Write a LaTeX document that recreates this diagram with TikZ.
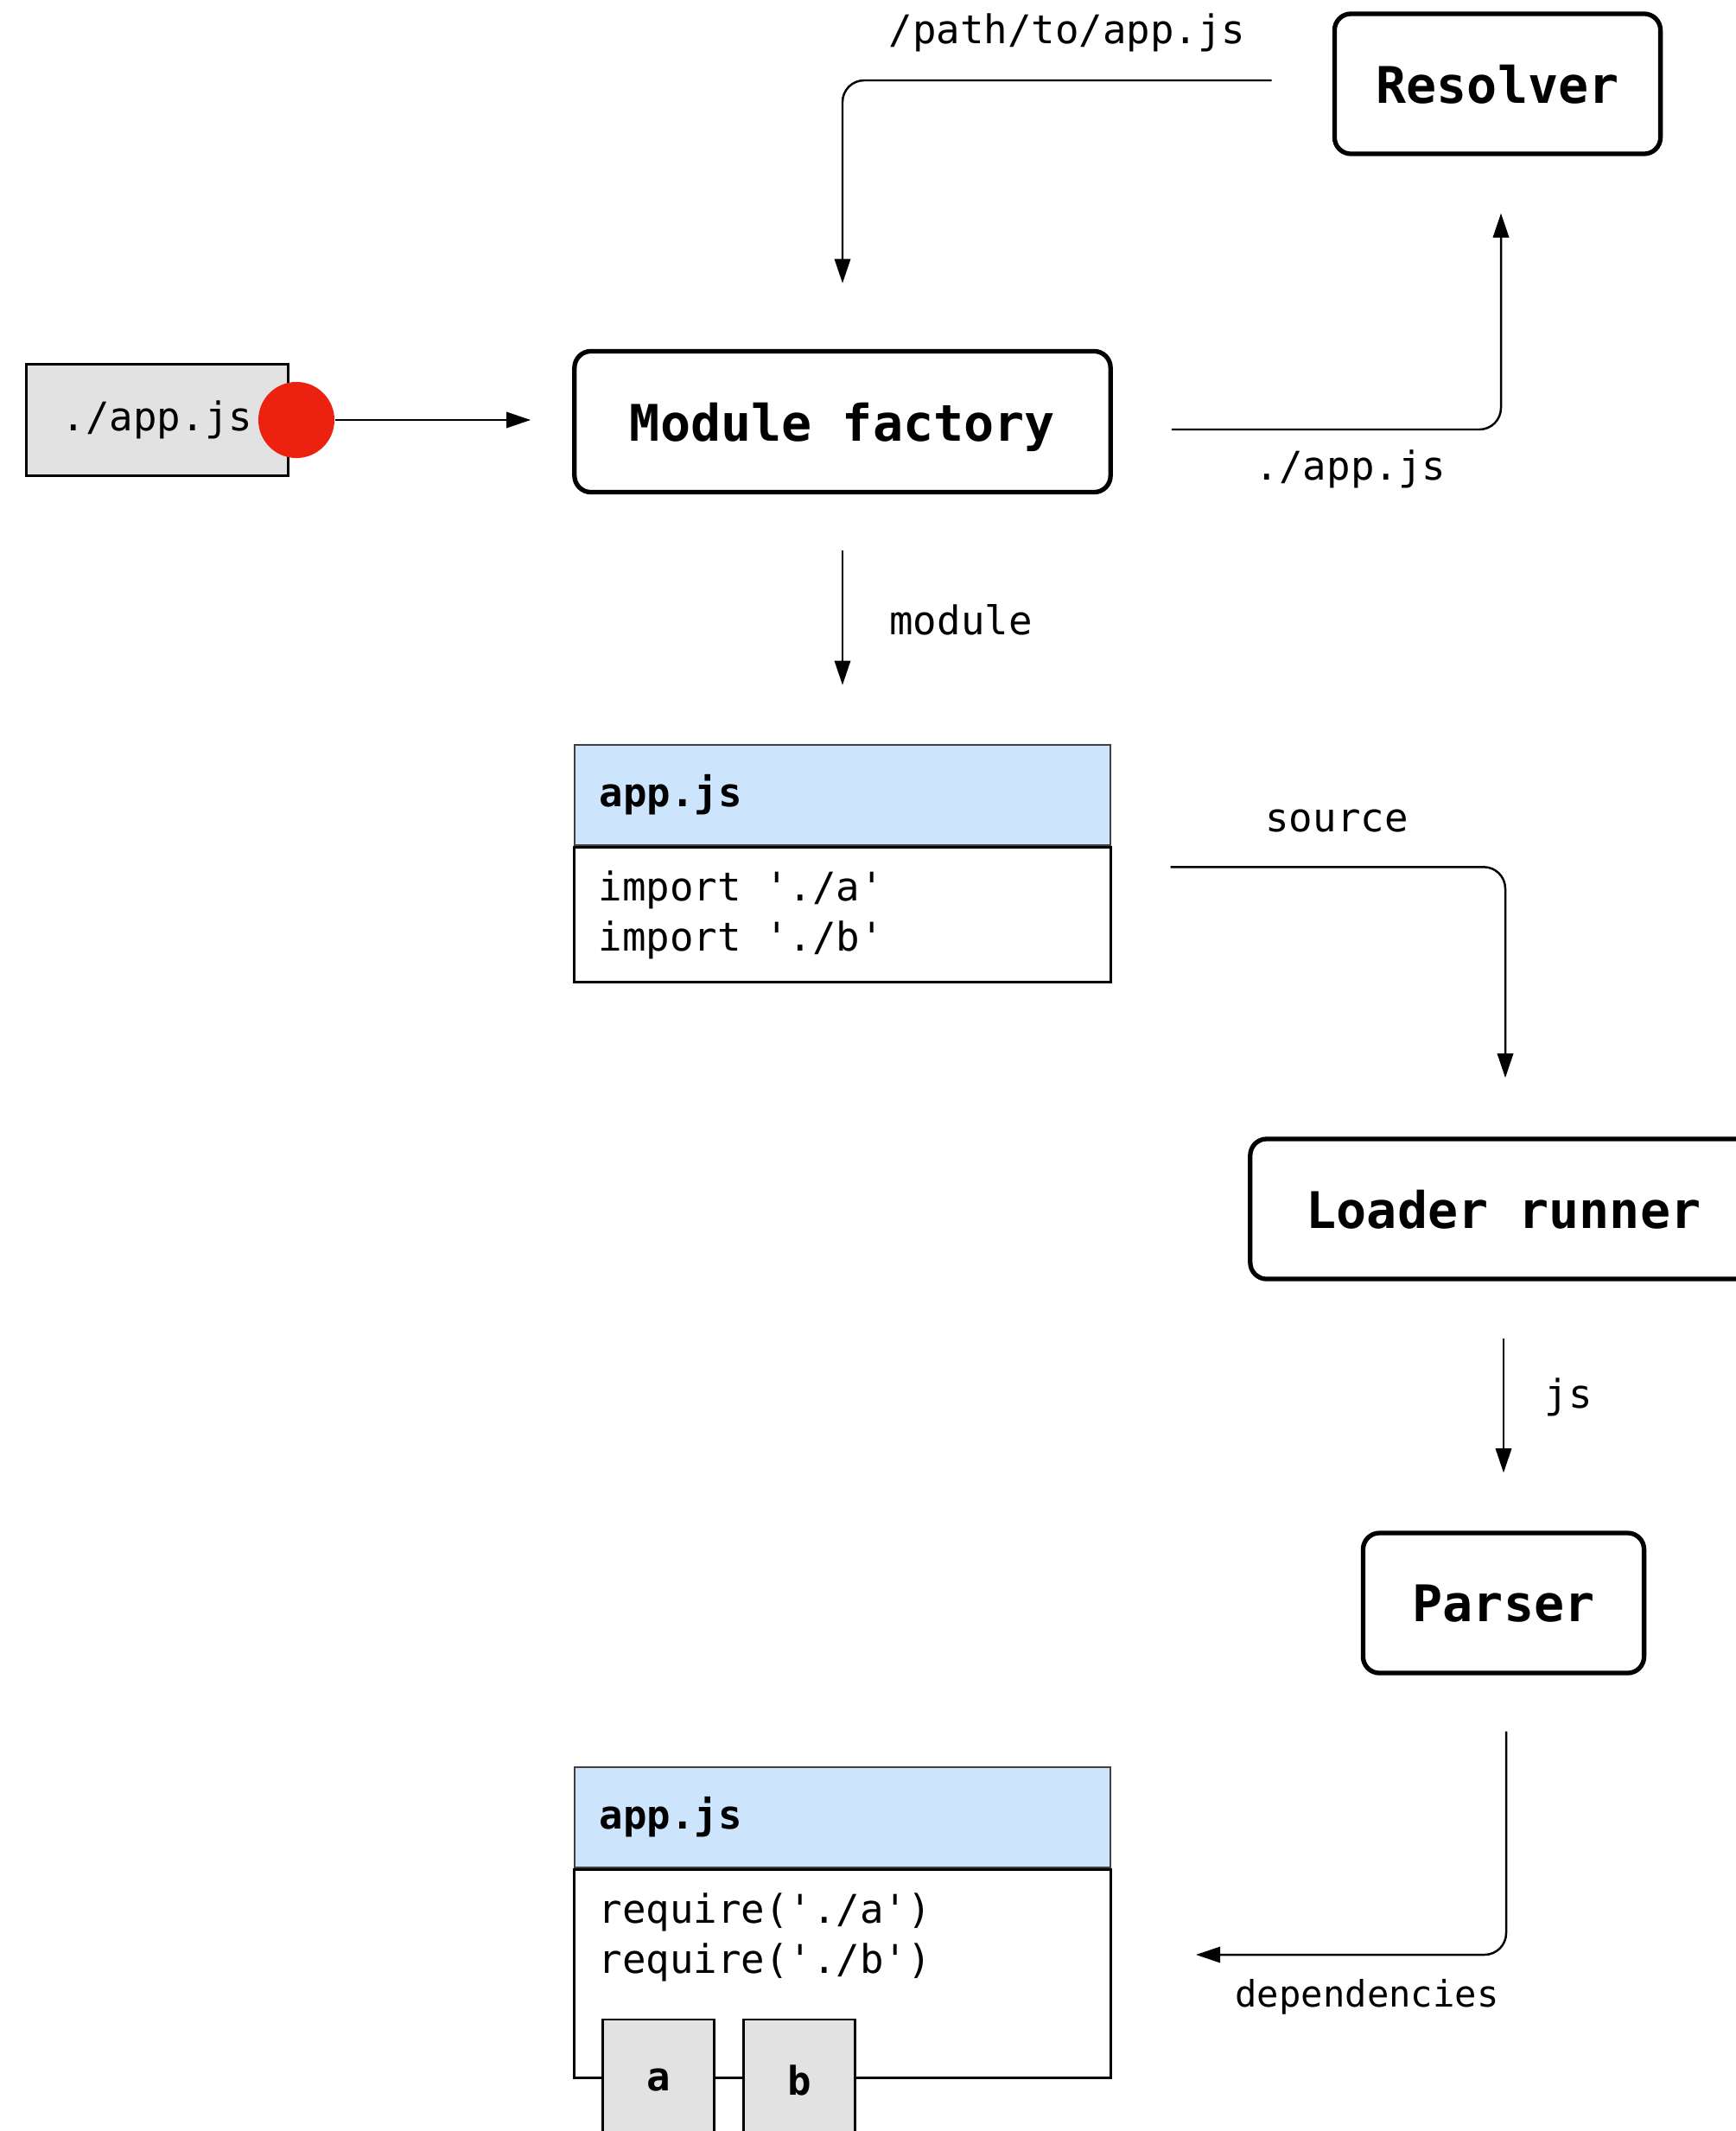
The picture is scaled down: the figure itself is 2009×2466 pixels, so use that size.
\documentclass[tikz,border=0pt]{standalone}
\usepackage{fontspec}
\setmonofont{DejaVu Sans Mono}
\usetikzlibrary{positioning, arrows.meta}
\definecolor{headblue}{RGB}{204,229,252}
\definecolor{filegray}{RGB}{226,226,226}
\definecolor{dotred}{RGB}{237,33,16}
\tikzset{
  stage/.style={draw, rounded corners=0.19cm, line width=1.5pt, minimum height=1.62cm, inner sep=0pt, text depth=0pt,
    font=\ttfamily\bfseries\fontsize{16.6pt}{20pt}\selectfont},
  filebox/.style={draw, fill=filegray, line width=0.7pt, inner sep=0pt,
    font=\ttfamily\fontsize{13pt}{16.5pt}\selectfont},
  dot/.style={circle, fill=dotred, minimum size=0.88cm, inner sep=0pt},
  tablehead/.style={draw=black!75, fill=headblue, line width=0.7pt, minimum width=6.2cm, minimum height=1.16cm,
    text width=5.62cm, inner xsep=0.29cm, inner ysep=0pt, align=left,
    font=\ttfamily\bfseries\fontsize{13pt}{16.5pt}\selectfont},
  tablebody/.style={draw, line width=0.8pt, minimum width=6.2cm, inner sep=0pt},
  code/.style={anchor=west, align=left, inner sep=0pt, font=\ttfamily\fontsize{13pt}{16.5pt}\selectfont},
  depbox/.style={draw, fill=filegray, line width=0.8pt, minimum width=1.29cm, minimum height=1.40cm, inner sep=0pt,
    font=\ttfamily\bfseries\fontsize{13pt}{16.5pt}\selectfont},
  lbl/.style={inner sep=0pt, font=\ttfamily\fontsize{13pt}{16.5pt}\selectfont},
  conn/.style={line width=0.7pt, -{Triangle[length=8pt,width=5.2pt]}, rounded corners=0.25cm},
  elbowh/.style={to path={-| (\tikztotarget) \tikztonodes}},
  elbowv/.style={to path={|- (\tikztotarget) \tikztonodes}}
}

\begin{document}
\begin{tikzpicture}[x=0.01cm, y=-0.01cm]
        \useasboundingbox (0,0) rectangle (2009,2466);
        \clip (0,0) rectangle (2009,2466);

        \node[filebox, minimum width=3.03cm, minimum height=1.29cm] (entry) at (182,486) {./app.js}; % entry
        \node[dot] (dot) at (343,486) {}; % dot
        \node[stage, minimum width=6.2cm, minimum height=1.63cm] (factory) at (975,488) {Module factory}; % factory
        \node[stage, minimum width=3.77cm] (resolver) at (1733,97) {Resolver}; % resolver
        \node[stage, minimum width=5.86cm] (loader) at (1740,1399) {Loader runner}; % loader
        \node[stage, minimum width=3.25cm] (parser) at (1740,1855) {Parser}; % parser

        \node[tablehead] (app1head) at (975,920) {app.js}; % module before
        \node[tablebody, minimum height=1.56cm, below=0pt of app1head] (app1body) {};
        \node[code] (app1code) at (692,1059) {import './a'\\import './b'};

        \node[tablehead] (app2head) at (975,2103) {app.js}; % module after
        \node[tablebody, minimum height=2.41cm, below=0pt of app2head] (app2body) {};
        \node[code] (app2code) at (692,2242) {require('./a')\\require('./b')};
        \node[depbox] (depa) at (762,2407) {a}; % a
        \node[depbox] (depb) at (925,2407) {b}; % b

        \coordinate (depin) at (1384,2262);

        \node[lbl] (lblpath) at (1235,38) {/path/to/app.js};
        \node[lbl] (lblrel) at (1563,543) {./app.js};
        \node[lbl] (lblmod) at (1112,717) {module};
        \node[lbl] (lblsrc) at (1547,950) {source};
        \node[lbl] (lbljs) at (1815,1617) {js};
        \node[lbl, font=\ttfamily\fontsize{12pt}{15pt}\selectfont] (lbldeps) at (1582,2311) {dependencies};

        \path[conn]
            (dot.east) edge[shorten >=0.48cm] (dot -| factory.west)
            ([yshift=0.04cm]resolver.west) edge[elbowh, shorten <=0.7cm, shorten >=0.76cm] (factory.north)
            ([yshift=-0.09cm]factory.east) edge[elbowh, shorten <=0.68cm, shorten >=0.66cm] ([xshift=0.04cm]resolver.south)
            (factory.south) edge[shorten <=0.65cm, shorten >=0.68cm] (app1head.north)
            ([yshift=-0.24cm]app1body.north east) edge[elbowh, shorten <=0.68cm, shorten >=0.68cm] ([xshift=0.02cm]loader.north)
            (loader.south) edge[shorten <=0.66cm, shorten >=0.67cm] (parser.north)
            ([xshift=0.03cm]parser.south) edge[elbowv, shorten <=0.65cm] (depin)
            ;
    \end{tikzpicture}
\end{document}
